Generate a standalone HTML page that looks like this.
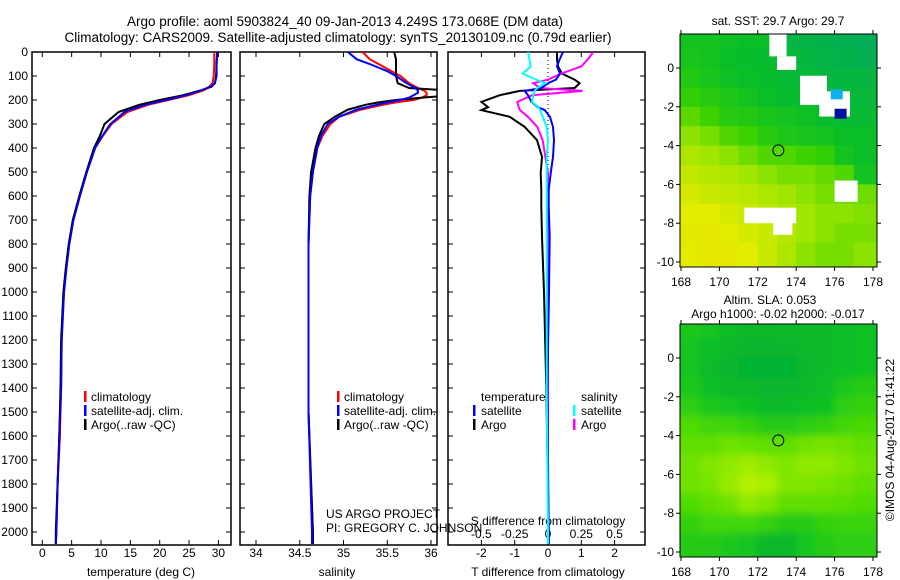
<!DOCTYPE html>
<html><head><meta charset="utf-8">
<style>
html,body{margin:0;padding:0;background:#fff;width:900px;height:580px;overflow:hidden;}
svg{display:block;font-family:"Liberation Sans",sans-serif;}
</style></head>
<body>
<svg id="chart" width="900" height="580" viewBox="0 0 900 580" xmlns="http://www.w3.org/2000/svg" overflow="hidden">
<text x="345" y="26" font-size="13.5" text-anchor="middle">Argo profile: aoml 5903824_40 09-Jan-2013 4.249S 173.068E (DM data)</text>
<text x="338" y="42" font-size="13.5" text-anchor="middle">Climatology: CARS2009. Satellite-adjusted climatology: synTS_20130109.nc (0.79d earlier)</text>
<text x="778" y="25" font-size="12" text-anchor="middle">sat. SST: 29.7 Argo: 29.7</text>
<text x="770" y="304" font-size="12" text-anchor="middle">Altim. SLA: 0.053</text>
<text x="778" y="318" font-size="12" text-anchor="middle">Argo h1000: -0.02 h2000: -0.017</text>
<text transform="translate(894,440) rotate(-90)" font-size="12" text-anchor="middle">©IMOS 04-Aug-2017 01:41:22</text>
<g id="layer"></g>
</svg>
<script>
// ---------- data ----------
const tDepth = [0,50,100,130,145,160,180,200,220,250,300,350,400,500,600,700,800,900,1000,1200,1400,1600,1800,2000,2050];
const tClim  = [29.3,29.3,29.2,29.0,28.4,27.5,25.0,21.5,18.0,14.5,11.8,10.3,9.0,7.6,6.4,5.3,4.6,4.1,3.7,3.3,3.2,3.0,2.6,2.4,2.3];
const tSat   = [29.8,29.7,29.7,29.4,28.6,27.0,24.5,21.0,17.5,14.0,11.6,10.2,9.0,7.6,6.4,5.3,4.6,4.1,3.7,3.3,3.2,2.9,2.6,2.4,2.3];
const tArgo  = [29.8,29.7,29.6,29.4,28.8,27.0,24.0,20.0,16.5,13.0,10.6,9.8,8.8,7.5,6.3,5.2,4.5,4.0,3.6,3.2,3.1,2.9,2.6,2.3,2.3];

const sDepth = [0,30,50,80,100,130,150,160,170,180,190,200,210,220,240,270,300,350,400,500,600,800,1000,1500,2000,2050];
const sClim  = [35.22,35.3,35.4,35.55,35.65,35.75,35.85,35.92,35.95,35.95,35.9,35.8,35.6,35.45,35.2,34.95,34.85,34.76,34.7,34.65,34.62,34.6,34.6,34.6,34.65,34.65];
const sSat   = [35.05,35.15,35.3,35.5,35.6,35.72,35.82,35.85,35.85,35.8,35.75,35.65,35.5,35.38,35.15,34.95,34.82,34.74,34.7,34.65,34.62,34.6,34.6,34.6,34.64,34.64];
const sArgo  = [35.58,35.6,35.6,35.6,35.6,35.62,35.75,36.2,36.1,36.25,35.9,35.6,35.4,35.25,35.05,34.9,34.78,34.72,34.68,34.63,34.61,34.6,34.6,34.6,34.65,34.65];

const dDepth   = [0,30,60,90,115,130,150,162,180,208,230,242,270,312,367,437,505,575,645,770,1000,1400,2000,2050];
const dTSat    = [0.45,0.35,0.27,0.36,0.24,0.0,-0.2,-0.7,-0.6,-0.5,-0.3,-0.1,0.06,0.15,0.18,0.15,0.08,0.02,0.02,0.05,0.03,-0.02,0.02,0.02];
const dTArgo   = [0.27,0.27,0.3,0.42,0.8,0.95,0.8,-0.85,-1.45,-2.0,-1.8,-2.0,-1.15,-0.7,-0.33,-0.18,-0.22,-0.2,-0.2,-0.18,-0.12,-0.05,0.02,0.02];
const dSSat    = [-0.15,-0.14,-0.13,-0.19,-0.09,-0.02,-0.08,-0.1,-0.11,-0.12,-0.07,-0.06,-0.04,-0.01,0.0,-0.01,-0.01,-0.01,-0.01,-0.01,-0.01,-0.01,0.0,0.0];
const dSArgo   = [0.34,0.3,0.25,0.1,0.0,-0.11,-0.06,0.26,-0.12,-0.23,-0.22,-0.21,-0.15,-0.08,-0.04,-0.02,0.0,0.0,0.0,0.0,0.0,0.0,0.0,0.0];

const depthTicks = [0,100,200,300,400,500,600,700,800,900,1000,1100,1200,1300,1400,1500,1600,1700,1800,1900,2000];
const tTicks = [0,5,10,15,20,25,30];
const sTicks = [34,34.5,35,35.5,36];
const sTickLabels = ["34","34.5","35","35.5","36"];
const dTTicks = [-2,-1,0,1,2];
const dSTicks = [-0.5,-0.25,0,0.25,0.5];
const dSTickLabels = ["-0.5","-0.25","0","0.25","0.5"];

const lonTicks = [168,170,172,174,176,178];
const latTicks = [0,-2,-4,-6,-8,-10];
const mapLatRows = [1.5,0.5,-0.5,-1.5,-2.5,-3.5,-4.5,-5.5,-6.5,-7.5,-8.5,-9.5];
const mapLonCols = [168.5,169.5,170.5,171.5,172.5,173.5,174.5,175.5,176.5,177.5];
const sstGrid = [
 [1.2,1.2,1.1,1.0,1.0,0.6,0.5,0.4,0.3,0.2],
 [1.3,1.2,1.0,0.9,0.9,0.7,0.6,0.5,0.4,0.3],
 [1.5,1.3,1.1,1.0,0.9,0.8,0.7,0.6,0.6,0.6],
 [1.8,1.6,1.4,1.2,1.0,0.9,0.8,0.8,0.7,0.7],
 [2.3,2.0,1.6,1.5,1.3,1.2,1.1,0.9,0.8,0.8],
 [2.8,2.6,2.2,2.0,1.6,1.4,1.3,1.2,1.0,1.0],
 [3.2,3.0,2.8,2.5,2.2,2.2,2.0,1.8,1.2,1.0],
 [3.5,3.3,3.2,3.0,2.8,2.6,2.6,2.4,2.2,1.2],
 [3.8,3.6,3.5,3.4,3.2,3.0,2.8,2.6,2.5,2.5],
 [4.0,4.0,3.8,3.6,3.4,3.2,3.0,2.8,2.8,2.7],
 [4.1,4.2,4.0,3.8,3.6,3.3,3.0,2.8,2.6,2.6],
 [4.0,4.2,4.2,4.0,3.6,3.2,2.8,2.6,2.6,2.8]];
const slaGrid = [
 [1.3,1.2,1.0,0.8,0.8,0.9,0.9,0.9,1.0,1.1],
 [1.2,1.0,0.8,0.7,0.7,0.7,0.8,0.9,1.0,1.1],
 [1.2,0.9,0.7,0.6,0.6,0.6,0.7,0.9,1.0,1.1],
 [1.3,1.0,0.8,0.8,0.7,0.7,0.8,1.0,1.3,1.4],
 [1.5,1.3,1.2,1.1,0.9,0.9,1.0,1.1,1.5,1.6],
 [2.0,1.8,1.8,1.6,1.4,1.4,1.5,1.6,1.8,1.9],
 [2.2,2.2,2.4,2.3,2.2,2.2,2.4,2.5,2.4,2.2],
 [2.4,2.6,2.8,3.0,2.8,2.6,2.8,2.8,2.6,2.4],
 [2.4,2.5,2.9,3.4,3.2,2.6,2.6,2.5,2.4,2.2],
 [2.0,2.2,2.4,2.8,2.6,2.2,2.2,2.2,2.1,2.0],
 [1.6,1.8,1.8,1.8,1.6,1.4,1.4,1.6,1.7,1.7],
 [1.4,1.4,1.3,1.2,0.8,0.8,1.2,1.4,1.5,1.5]];
// missing-data patches [lon0,lat0,lon1,lat1]
const maskLon0 = [172.6,173.0,174.2,175.2,176.0,171.3,172.8];
const maskLat0 = [1.75,0.6,-0.4,-1.2,-5.8,-7.2,-7.9];
const maskLon1 = [173.5,174.0,175.6,176.8,177.2,174.0,173.8];
const maskLat1 = [0.6,-0.1,-1.9,-2.5,-6.9,-8.0,-8.6];
const floatLon = 173.068, floatLat = -4.249;

// ---------- helpers ----------
const NS = "http://www.w3.org/2000/svg";
const layer = document.getElementById('layer');
function mk(tag, attrs, parent){ const e=document.createElementNS(NS,tag); for(const k in attrs) e.setAttribute(k,attrs[k]); (parent||layer).appendChild(e); return e; }
const TOP=52, BOT=545;
const yD = d => TOP + d*0.24;
const xT = t => 42.3 + t*5.87;
const xS = s => 256 + (s-34)*87.5;
const xDT = v => 548 + v*33.3;
const xDS = v => 548 + v*133.2;

function profile(xs, depths, fn, color, name, w){
  const pts = depths.map((d,i)=> fn(xs[i]).toFixed(1)+','+yD(d).toFixed(1)).join(' ');
  const p = mk('polyline',{points:pts,fill:'none',stroke:color,'stroke-width':w||2,'clip-path':'url(#clip-'+name.split('-')[0]+')'});
  
  
}
const defs = mk('defs',{});
[['p1',32,231],['p2',240,437],['p3',448,645]].forEach(([id,x0,x1])=>{
  const c = mk('clipPath',{id:'clip-'+id},defs);
  mk('rect',{x:x0,y:TOP,width:x1-x0,height:BOT-TOP},c);
});
const mc1 = mk('clipPath',{id:'clip-m1'},defs); mk('rect',{x:680,y:34,width:197,height:233},mc1);
const mc2 = mk('clipPath',{id:'clip-m2'},defs); mk('rect',{x:680,y:324,width:197,height:233},mc2);
const blur = mk('filter',{id:'blur',x:'0',y:'0',width:'100%',height:'100%'},defs);
mk('feGaussianBlur',{stdDeviation:'4'},blur);

function boxFrame(x0,x1,name){
  const r = mk('rect',{x:x0,y:TOP,width:x1-x0,height:BOT-TOP,fill:'none',stroke:'#000','stroke-width':1.5});
  
  
}
function xTicks(vals, labels, fn, y, name){
  vals.forEach((v,i)=>{
    const x = fn(v);
    mk('line',{x1:x,y1:BOT,x2:x,y2:BOT-5,stroke:'#000'});
    mk('line',{x1:x,y1:TOP,x2:x,y2:TOP+5,stroke:'#000'});
    const t = mk('text',{x:x,y:y,'font-size':12,'text-anchor':'middle'});
    t.textContent = labels ? labels[i] : String(v);
    
    
  });
}
function yTickMarks(x0,x1){
  depthTicks.forEach(d=>{
    mk('line',{x1:x0,y1:yD(d),x2:x0+5,y2:yD(d),stroke:'#000'});
    mk('line',{x1:x1,y1:yD(d),x2:x1-5,y2:yD(d),stroke:'#000'});
  });
}
function label(x,y,txt,name,anchor){
  const t = mk('text',{x:x,y:y,'font-size':12,'text-anchor':anchor||'start'});
  t.textContent = txt;
  
  
  return t;
}
function legendBar(x,y,color,name){
  const r = mk('rect',{x:x,y:y-10,width:2.5,height:11,fill:color});
  
  
}

// ---------- panel 1: temperature ----------
boxFrame(32,231,'temperature-panel');
yTickMarks(32,231);
depthTicks.forEach(d=>{ label(28,yD(d)+4,String(d),'depth-tick-label','end'); });
xTicks(tTicks,null,xT,557,'temperature-tick-label');
label(141,576,'temperature (deg C)','temperature-axis-title','middle');
profile(tClim,tDepth,xT,'#ff0000','p1-temp-climatology');
profile(tSat,tDepth,xT,'#0000ff','p1-temp-satellite');
profile(tArgo,tDepth,xT,'#000000','p1-temp-argo');
profile(tSat,tDepth,xT,'#0000ff','p1-temp-satellite-top',1.5);
legendBar(84,401,'#ff0000','legend-climatology-marker'); label(91,401,'climatology','legend-climatology');
legendBar(84,415,'#0000ff','legend-satellite-marker'); label(91,415,'satellite-adj. clim.','legend-satellite');
legendBar(84,429,'#000000','legend-argo-marker'); label(91,429,'Argo(..raw -QC)','legend-argo');

// ---------- panel 2: salinity ----------
boxFrame(240,437,'salinity-panel');
yTickMarks(240,437);
xTicks(sTicks,sTickLabels,xS,557,'salinity-tick-label');
label(337,576,'salinity','salinity-axis-title','middle');
profile(sClim,sDepth,xS,'#ff0000','p2-sal-climatology');
profile(sArgo,sDepth,xS,'#000000','p2-sal-argo');
profile(sSat,sDepth,xS,'#0000ff','p2-sal-satellite');
legendBar(337,401,'#ff0000','legend2-climatology-marker'); label(344,401,'climatology','legend2-climatology');
legendBar(337,415,'#0000ff','legend2-satellite-marker'); label(344,415,'satellite-adj. clim.','legend2-satellite');
legendBar(337,429,'#000000','legend2-argo-marker'); label(344,429,'Argo(..raw -QC)','legend2-argo');
label(326,518,'US ARGO PROJECT','project-credit');
label(326,532,'PI: GREGORY C. JOHNSON','pi-credit');

// ---------- panel 3: differences ----------
boxFrame(448,645,'difference-panel');
yTickMarks(448,645);
mk('line',{x1:548,y1:TOP,x2:548,y2:BOT,stroke:'#000','stroke-dasharray':'1,3'});
xTicks(dTTicks,null,xDT,557,'t-diff-tick-label');
label(548,576,'T difference from climatology','t-diff-axis-title','middle');
dSTicks.forEach((v,i)=>{ label(xDS(v),538,dSTickLabels[i],'s-diff-tick-label','middle'); });
label(548,525,'S difference from climatology','s-diff-axis-title','middle');
profile(dTArgo,dDepth,xDT,'#000000','p3-tdiff-argo');
profile(dSArgo,dDepth,xDS,'#ff00ff','p3-sdiff-argo');
profile(dTSat,dDepth,xDT,'#0000ff','p3-tdiff-satellite');
profile(dSSat,dDepth,xDS,'#00ffff','p3-sdiff-satellite');
label(481,401,'temperature','legend3-temperature');
legendBar(473,415,'#0000ff','legend3-tsat-marker'); label(481,415,'satellite','legend3-tsat');
legendBar(473,429,'#000000','legend3-targo-marker'); label(481,429,'Argo','legend3-targo');
label(581,401,'salinity','legend3-salinity');
legendBar(573,415,'#00ffff','legend3-ssat-marker'); label(581,415,'satellite','legend3-ssat');
legendBar(573,429,'#ff00ff','legend3-sargo-marker'); label(581,429,'Argo','legend3-sargo');

// ---------- maps ----------
function lerpColor(stops, v){
  const i = Math.max(0, Math.min(stops.length-2, Math.floor(v)));
  const f = Math.max(0, Math.min(1, v-i));
  const a = stops[i], b = stops[i+1];
  return 'rgb('+a.map((c,k)=>Math.round(c+(b[k]-c)*f)).join(',')+')';
}
const sstStops = [[0,170,100],[10,190,40],[60,210,0],[160,230,0],[225,236,0],[246,216,0]];
const slaStops = [[0,160,60],[10,190,40],[80,220,0],[160,236,0],[210,246,0]];
function drawMap(grid, stops, y0, clipId, name, smooth){
  const lx = lon => 681 + (lon-168)*19.2;
  const ly = lat => y0 + (0-lat)*19.4;
  const g = mk('g',{'clip-path':'url(#'+clipId+')'});
  
  
  const inner = mk('g', smooth?{filter:'url(#blur)'}:{}, g);
  grid.forEach((row,r)=>row.forEach((v,c)=>{
    const x = lx(mapLonCols[c]-0.5), y = ly(mapLatRows[r]+0.5);
    const ext = 12;
    const cell = mk('rect',{x:x-(c===0?ext:0),y:y-(r===0?ext:0),width:19.7+(c===0||c===9?ext:0),height:19.9+(r===0||r===11?ext:0),fill:lerpColor(stops,v)},inner);
    
    
  }));
  return {lx,ly,g};
}
function mapFrame(y0, top, name){
  const lx = lon => 681 + (lon-168)*19.2;
  const r = mk('rect',{x:680,y:top,width:197,height:233,fill:'none',stroke:'#000','stroke-width':1});
  
  
  lonTicks.forEach(lon=>{
    mk('line',{x1:lx(lon),y1:top+233,x2:lx(lon),y2:top+237,stroke:'#000'});
    mk('line',{x1:lx(lon),y1:top,x2:lx(lon),y2:top-4,stroke:'#000'});
    label(lx(lon),top+252,String(lon),'lon-tick-label','middle');
  });
  latTicks.forEach(lat=>{
    const y = y0 - lat*19.4;
    mk('line',{x1:680,y1:y,x2:676,y2:y,stroke:'#000'});
    mk('line',{x1:877,y1:y,x2:881,y2:y,stroke:'#000'});
    label(674,y+4,String(lat),'lat-tick-label','end');
  });
  const c = mk('circle',{cx:lx(floatLon),cy:y0-floatLat*19.4,r:5.5,fill:'none',stroke:'#000','stroke-width':1});
  
  
}
const m1 = drawMap(sstGrid, sstStops, 68, 'clip-m1', 'sst-map', false);
maskLon0.forEach((l0,i)=>{
  const m = mk('rect',{x:m1.lx(l0),y:m1.ly(maskLat0[i]),width:m1.lx(maskLon1[i])-m1.lx(l0),height:m1.ly(maskLat1[i])-m1.ly(maskLat0[i]),fill:'#fff'},m1.g);
  
  
});
mk('rect',{x:m1.lx(175.8),y:m1.ly(-1.1),width:12,height:10,fill:'#10b0f0'},m1.g);
mk('rect',{x:m1.lx(176.0),y:m1.ly(-2.1),width:12,height:10,fill:'#0010a0'},m1.g);
mapFrame(68, 34, 'sst-map-frame');
const m2 = drawMap(slaGrid, slaStops, 358, 'clip-m2', 'sla-map', true);
mapFrame(358, 324, 'sla-map-frame');
</script>
</body></html>
